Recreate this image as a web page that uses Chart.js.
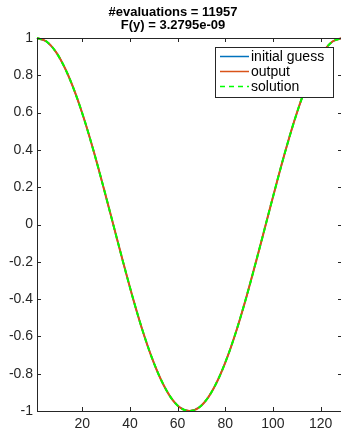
<!DOCTYPE html>
<html>
<head>
<meta charset="utf-8">
<script src="https://cdn.jsdelivr.net/npm/chart.js@4/dist/chart.umd.min.js"></script>
<style>
  html, body { margin: 0; padding: 0; background: #fff; overflow: hidden; }
  #wrap { width: 341px; height: 430px; overflow: hidden; }
</style>
</head>
<body>
<div id="wrap"><canvas id="plot" width="343" height="430"></canvas></div>
<script>
// values
const xValues = [1, 5, 9, 13, 17, 21, 25, 29, 33, 37, 41, 45, 49, 53, 57, 61, 65,
  69, 73, 77, 81, 85, 89, 93, 97, 101, 105, 109, 113, 117, 121, 125, 129];
const initialGuess = [1, 0.981, 0.924, 0.831, 0.707, 0.556, 0.383, 0.195, 0, -0.195, -0.383,
  -0.556, -0.707, -0.831, -0.924, -0.981, -1, -0.981, -0.924, -0.831, -0.707, -0.556, -0.383,
  -0.195, 0, 0.195, 0.383, 0.556, 0.707, 0.831, 0.924, 0.981, 1];
const output = [1, 0.981, 0.924, 0.831, 0.707, 0.556, 0.383, 0.195, 0, -0.195, -0.383,
  -0.556, -0.707, -0.831, -0.924, -0.981, -1, -0.981, -0.924, -0.831, -0.707, -0.556, -0.383,
  -0.195, 0, 0.195, 0.383, 0.556, 0.707, 0.831, 0.924, 0.981, 1];
const solution = [1, 0.981, 0.924, 0.831, 0.707, 0.556, 0.383, 0.195, 0, -0.195, -0.383,
  -0.556, -0.707, -0.831, -0.924, -0.981, -1, -0.981, -0.924, -0.831, -0.707, -0.556, -0.383,
  -0.195, 0, 0.195, 0.383, 0.556, 0.707, 0.831, 0.924, 0.981, 1];
const xTicks = [20, 40, 60, 80, 100, 120];
const yTicks = [-1, -0.8, -0.6, -0.4, -0.2, 0, 0.2, 0.4, 0.6, 0.8, 1];
const titleLines = ['#evaluations = 11957', 'F(y) = 3.2795e-09'];

const axisColor = '#262626';
const font = '"Liberation Sans", Arial, sans-serif';

const toPoints = ys => xValues.map((x, i) => ({ x: x, y: ys[i] }));

// box, inward ticks, title and legend drawn the MATLAB way
const matlabAxes = {
  id: 'matlabAxes',
  afterDatasetsDraw(chart) {
    const ctx = chart.ctx;
    const a = chart.chartArea;
    const xs = chart.scales.x, ys = chart.scales.y;
    ctx.save();
    ctx.strokeStyle = axisColor;
    ctx.lineWidth = 1;
    ctx.beginPath();
    ctx.rect(Math.round(a.left) + 0.5, Math.round(a.top) + 0.5,
      Math.round(a.right - a.left), Math.round(a.bottom - a.top));
    const tl = 4;
    xTicks.forEach(v => {
      const px = Math.round(xs.getPixelForValue(v)) + 0.5;
      ctx.moveTo(px, a.bottom); ctx.lineTo(px, a.bottom - tl);
      ctx.moveTo(px, a.top); ctx.lineTo(px, a.top + tl);
    });
    yTicks.forEach(v => {
      const py = Math.round(ys.getPixelForValue(v)) + 0.5;
      ctx.moveTo(a.left, py); ctx.lineTo(a.left + tl, py);
      ctx.moveTo(a.right, py); ctx.lineTo(a.right - tl, py);
    });
    ctx.stroke();

    // title
    ctx.fillStyle = '#000';
    ctx.font = 'bold 13px ' + font;
    ctx.textAlign = 'center';
    ctx.textBaseline = 'middle';
    ctx.fillText(titleLines[0], 173, 12);
    ctx.fillText(titleLines[1], 173, 25);

    // legend
    const lx = 215, ly = 47, lw = 118, lh = 50;
    ctx.fillStyle = '#fff';
    ctx.fillRect(lx, ly, lw, lh);
    ctx.strokeStyle = axisColor;
    ctx.strokeRect(lx + 0.5, ly + 0.5, lw, lh);
    ctx.font = '14px ' + font;
    ctx.textAlign = 'left';
    chart.data.datasets.forEach((ds, i) => {
      const y = 56.5 + i * 15;
      ctx.strokeStyle = ds.borderColor;
      ctx.lineWidth = 1.5;
      ctx.setLineDash(ds.borderDash || []);
      ctx.beginPath();
      ctx.moveTo(220, y); ctx.lineTo(249, y);
      ctx.stroke();
      ctx.setLineDash([]);
      ctx.fillStyle = '#000';
      ctx.fillText(ds.label, 251, y + 0.5);
    });
    ctx.restore();
  }
};

new Chart(document.getElementById('plot'), {
  type: 'line',
  data: {
    datasets: [
      { label: 'initial guess', data: toPoints(initialGuess), borderColor: '#0072BD', borderWidth: 1.5, order: 2 },
      { label: 'output', data: toPoints(output), borderColor: '#D95319', borderWidth: 2, order: 1 },
      { label: 'solution', data: toPoints(solution), borderColor: '#00FF00', borderWidth: 2, borderDash: [5, 4], order: 0 }
    ]
  },
  options: {
    responsive: false,
    animation: false,
    devicePixelRatio: 1,
    layout: { padding: { top: 38, right: 1, left: 0, bottom: 0 } },
    elements: {
      point: { radius: 0 },
      line: { cubicInterpolationMode: 'monotone', fill: false }
    },
    datasets: { line: { clip: 3 } },
    plugins: { legend: { display: false }, title: { display: false }, tooltip: { enabled: false } },
    scales: {
      x: {
        type: 'linear',
        min: 1,
        max: 129,
        afterBuildTicks: s => { s.ticks = xTicks.map(v => ({ value: v })); },
        afterFit: s => { s.height = 19; },
        grid: { display: false, drawTicks: false },
        border: { display: false },
        ticks: { padding: 5, color: axisColor, font: { family: font, size: 14 }, maxRotation: 0 }
      },
      y: {
        min: -1,
        max: 1,
        afterBuildTicks: s => { s.ticks = yTicks.map(v => ({ value: v })); },
        afterFit: s => { s.width = 37; },
        grid: { display: false, drawTicks: false },
        border: { display: false },
        ticks: { padding: 4, color: axisColor, font: { family: font, size: 14 },
          callback: v => String(Math.round(v * 10) / 10) }
      }
    }
  },
  plugins: [matlabAxes]
});
</script>
</body>
</html>
